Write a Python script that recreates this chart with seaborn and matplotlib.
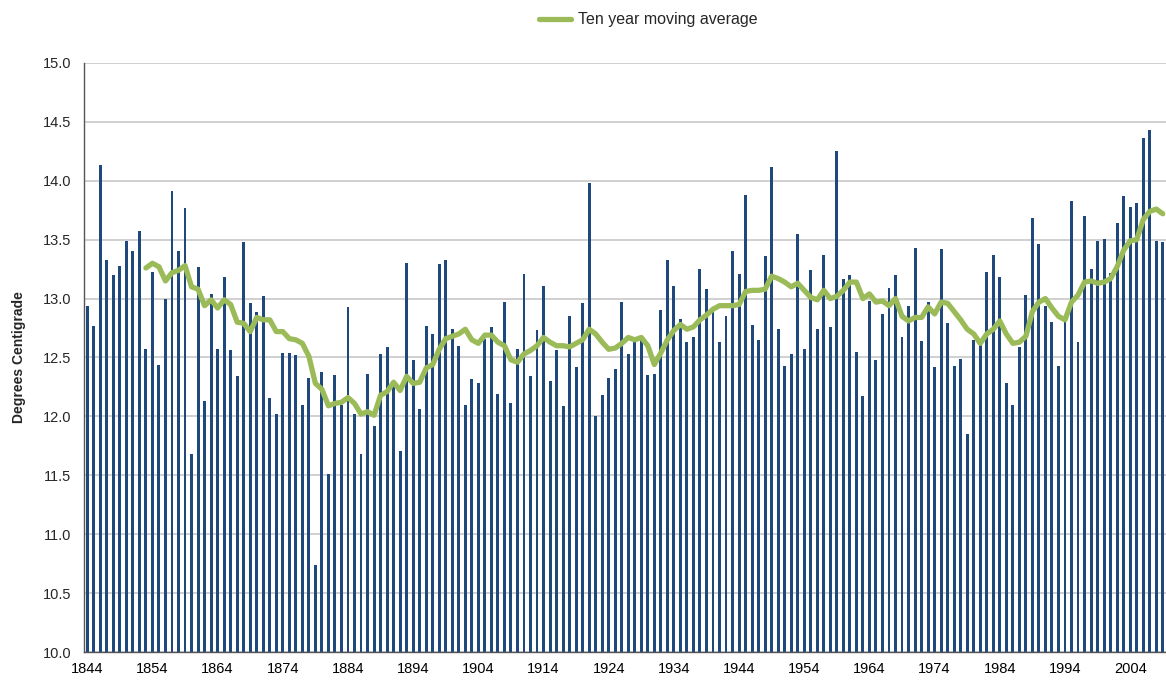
import matplotlib
matplotlib.use("Agg")
import matplotlib.pyplot as plt
from matplotlib.ticker import FixedLocator
import numpy as np
import seaborn as sns

# Annual mean temperature, 1844-2009
years = list(range(1844, 2010))
temps = [
    12.94, 12.77, 14.13, 13.33, 13.20, 13.28, 13.49, 13.40, 13.57, 12.57,  # 1844-1853
    13.23, 12.44, 13.00, 13.91, 13.40, 13.77, 11.68, 13.27, 12.13, 13.04,  # 1854-1863
    12.57, 13.18, 12.56, 12.34, 13.48, 12.96, 12.89, 13.02, 12.16, 12.02,  # 1864-1873
    12.54, 12.54, 12.52, 12.10, 12.33, 10.74, 12.38, 11.51, 12.35, 12.10,  # 1874-1883
    12.93, 12.02, 11.68, 12.36, 11.92, 12.53, 12.59, 12.30, 11.71, 13.30,  # 1884-1893
    12.48, 12.06, 12.77, 12.70, 13.29, 13.33, 12.74, 12.60, 12.10, 12.32,  # 1894-1903
    12.28, 12.66, 12.76, 12.19, 12.97, 12.11, 12.57, 13.21, 12.34, 12.73,  # 1904-1913
    13.11, 12.30, 12.56, 12.09, 12.85, 12.42, 12.96, 13.98, 12.00, 12.18,  # 1914-1923
    12.33, 12.40, 12.97, 12.53, 12.63, 12.67, 12.35, 12.36, 12.90, 13.33,  # 1924-1933
    13.11, 12.83, 12.63, 12.67, 13.25, 13.08, 12.92, 12.63, 12.85, 13.40,  # 1934-1943
    13.21, 13.88, 12.78, 12.65, 13.36, 14.12, 12.74, 12.43, 12.53, 13.55,  # 1944-1953
    12.57, 13.24, 12.74, 13.37, 12.76, 14.25, 13.17, 13.20, 12.55, 12.17,  # 1954-1963
    12.98, 12.48, 12.87, 13.09, 13.20, 12.67, 12.94, 13.43, 12.64, 12.97,  # 1964-1973
    12.42, 13.42, 12.79, 12.43, 12.49, 11.85, 12.65, 12.63, 13.23, 13.37,  # 1974-1983
    13.18, 12.28, 12.10, 12.59, 13.03, 13.68, 13.46, 12.94, 12.80, 12.43,  # 1984-1993
    12.80, 13.83, 12.63, 13.70, 13.25, 13.49, 13.51, 13.22, 13.64, 13.87,  # 1994-2003
    13.78, 13.81, 14.36, 14.43, 13.49, 13.48,                              # 2004-2009
]

# Ten year moving average, 1853-2009
ma_years = list(range(1853, 2010))
ma_values = [
    13.26, 13.30, 13.27, 13.15, 13.22, 13.24, 13.28, 13.10, 13.08, 12.94,  # 1853-1862
    12.99, 12.92, 12.99, 12.95, 12.80, 12.79, 12.72, 12.84, 12.82, 12.82,  # 1863-1872
    12.72, 12.72, 12.66, 12.65, 12.62, 12.51, 12.28, 12.23, 12.09, 12.11,  # 1873-1882
    12.12, 12.16, 12.11, 12.02, 12.04, 12.01, 12.18, 12.21, 12.29, 12.22,  # 1883-1892
    12.34, 12.28, 12.29, 12.41, 12.44, 12.57, 12.66, 12.68, 12.70, 12.74,  # 1893-1902
    12.65, 12.62, 12.69, 12.69, 12.63, 12.60, 12.48, 12.46, 12.53, 12.56,  # 1903-1912
    12.60, 12.67, 12.63, 12.60, 12.60, 12.59, 12.62, 12.65, 12.74, 12.70,  # 1913-1922
    12.63, 12.57, 12.58, 12.62, 12.67, 12.65, 12.67, 12.60, 12.44, 12.54,  # 1923-1932
    12.65, 12.73, 12.78, 12.74, 12.76, 12.82, 12.86, 12.91, 12.94, 12.94,  # 1933-1942
    12.94, 12.95, 13.06, 13.07, 13.07, 13.08, 13.19, 13.17, 13.14, 13.10,  # 1943-1952
    13.13, 13.07, 13.01, 12.99, 13.07, 13.00, 13.02, 13.07, 13.14, 13.14,  # 1953-1962
    13.00, 13.04, 12.97, 12.98, 12.94, 13.00, 12.85, 12.81, 12.84, 12.84,  # 1963-1972
    12.93, 12.87, 12.97, 12.96, 12.89, 12.82, 12.74, 12.70, 12.62, 12.70,  # 1973-1982
    12.74, 12.81, 12.70, 12.62, 12.63, 12.68, 12.89, 12.97, 13.00, 12.92,  # 1983-1992
    12.85, 12.82, 12.97, 13.03, 13.14, 13.15, 13.13, 13.14, 13.17, 13.27,  # 1993-2002
    13.41, 13.49, 13.50, 13.67, 13.74, 13.76, 13.72,                       # 2003-2009
]

y_ticks = [10.0 + 0.5 * i for i in range(11)]
x_labels = list(range(1844, 2010, 10))

bar_color = "#1F497D"
line_color = "#9BBB59"

sns.set_style("white")
plt.rcParams["font.family"] = ["Liberation Sans", "DejaVu Sans"]

fig = plt.figure(figsize=(11.66, 6.82), dpi=100)
ax = fig.add_axes([84 / 1166, 30 / 682, 1 - 84 / 1166, 589 / 682])

pos = np.arange(len(years))
sns.barplot(x=pos, y=temps, color=bar_color, width=0.45, ax=ax,
            native_scale=True, saturation=1, edgecolor="none", zorder=2)

ma_pos = [years.index(y) for y in ma_years]
sns.lineplot(x=ma_pos, y=ma_values, color=line_color, lw=3.8, ax=ax,
             label="Ten year moving average", zorder=3)

ax.set_xlim(-0.5, len(years) - 0.5)
ax.set_ylim(10.0, 15.0)
ax.set_yticks(y_ticks)
ax.set_yticklabels([f"{v:.1f}" for v in y_ticks], fontsize=10.5)
ax.set_xticks([years.index(y) for y in x_labels])
ax.set_xticklabels([str(y) for y in x_labels], fontsize=10.5)
ax.xaxis.set_minor_locator(FixedLocator(np.arange(-0.5, len(years), 1)))
ax.tick_params(axis="x", which="major", length=0, pad=7, colors="#000000")
ax.tick_params(axis="x", which="minor", length=5, width=1, color="#666666", direction="out")
ax.tick_params(axis="y", length=5, width=1, color="#666666", direction="out", pad=4)

ax.yaxis.grid(True, color="#C8C8C8", lw=1.2, zorder=0)
ax.set_axisbelow(True)
for s in ["top", "right"]:
    ax.spines[s].set_visible(False)
for s in ["left", "bottom"]:
    ax.spines[s].set_color("#555555")
    ax.spines[s].set_linewidth(1)

ax.set_xlabel("")
ax.set_ylabel("Degrees Centigrade", fontsize=10, fontweight="bold", labelpad=12)

ax.get_legend().remove()
handles, labels = ax.get_legend_handles_labels()
fig.legend(handles, labels, loc="center", bbox_to_anchor=(0.556, 0.971),
           frameon=False, fontsize=11.5, handlelength=2.0, handletextpad=0.4)

fig.savefig("out.png", dpi=100)
